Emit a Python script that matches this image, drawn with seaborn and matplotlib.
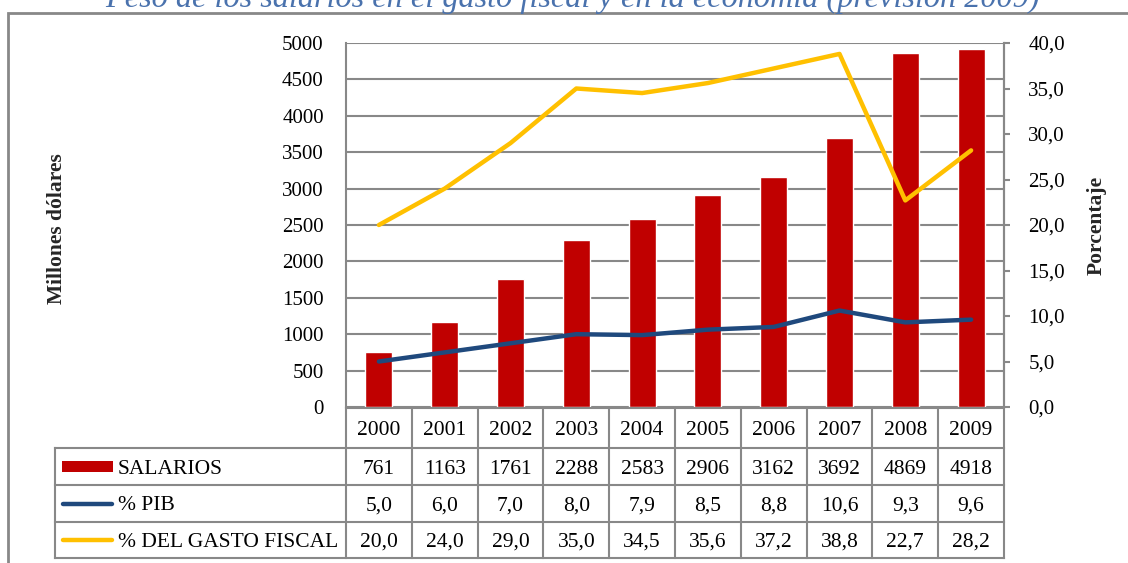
import numpy as np
import pandas as pd
import matplotlib
matplotlib.use("Agg")
import matplotlib.pyplot as plt
import seaborn as sns
from matplotlib.patches import Rectangle
from matplotlib.lines import Line2D
from matplotlib.ticker import FuncFormatter, MultipleLocator

# ---- data ----
years = ["2000", "2001", "2002", "2003", "2004", "2005", "2006", "2007", "2008", "2009"]
salarios = [761, 1163, 1761, 2288, 2583, 2906, 3162, 3692, 4869, 4918]
pct_pib = [5.0, 6.0, 7.0, 8.0, 7.9, 8.5, 8.8, 10.6, 9.3, 9.6]
pct_gasto = [20.0, 24.0, 29.0, 35.0, 34.5, 35.6, 37.2, 38.8, 22.7, 28.2]
series_labels = ["SALARIOS", "% PIB", "% DEL GASTO FISCAL"]
title = "Peso de los salarios en el gasto fiscal y en la economía (previsión 2009)"
left_label = "Millones dólares"
right_label = "Porcentaje"

RED = "#C00000"
BLUE = "#1F497D"
GOLD = "#FFC000"
GRID = "#888888"

sns.set_style("white")
plt.rcParams["font.family"] = ["Liberation Serif", "DejaVu Serif"]

W, H = 1128, 563
fig = plt.figure(figsize=(W / 100, H / 100), dpi=100)

# axes box in pixels
L, R, T, B = 346, 1004, 43, 407
ax = fig.add_axes([L / W, 1 - B / H, (R - L) / W, (B - T) / H])

def px2ax(px, py):
    return (px - L) / (R - L), (B - py) / (B - T)

df = pd.DataFrame({"year": years, "salarios": salarios,
                   "pib": pct_pib, "gasto": pct_gasto})
df["pos"] = np.arange(len(years))

sns.barplot(data=df, x="year", y="salarios", color=RED, saturation=1,
            width=0.41, ax=ax, zorder=3)
ax.set_xlim(-0.5, len(years) - 0.5)
ax.set_ylim(0, 5000)
ax.yaxis.set_major_locator(MultipleLocator(500))
ax.grid(axis="y", color=GRID, linewidth=1.5, zorder=0)
ax.set_axisbelow(True)
ax.set_xticks([])
ax.set_xlabel("")
ax.tick_params(axis="y", length=0, pad=16, labelsize=15, colors="black")
for s in ["top", "bottom"]:
    ax.spines[s].set_visible(False)
for s in ["left", "right"]:
    ax.spines[s].set_color(GRID)
    ax.spines[s].set_linewidth(1.5)
ax.set_ylabel(left_label, fontsize=15.5, fontweight="bold")
ax.yaxis.set_label_coords(px2ax(67, 0)[0], px2ax(0, 229)[1])

ax2 = ax.twinx()
sns.lineplot(data=df, x="pos", y="pib", color=BLUE, linewidth=3.2, ax=ax2,
             solid_capstyle="round", zorder=4)
sns.lineplot(data=df, x="pos", y="gasto", color=GOLD, linewidth=3.2, ax=ax2,
             solid_capstyle="round", zorder=4)
ax2.set_xlim(-0.5, len(years) - 0.5)
ax2.set_ylim(0, 40)
ax2.yaxis.set_major_locator(MultipleLocator(5))
ax2.yaxis.set_major_formatter(FuncFormatter(lambda v, p: f"{v:.1f}".replace(".", ",")))
ax2.tick_params(axis="y", length=4.5, width=1.5, color=GRID, pad=13,
                labelsize=15, labelcolor="black")
for s in ["top", "bottom", "left"]:
    ax2.spines[s].set_visible(False)
ax2.spines["right"].set_color(GRID)
ax2.spines["right"].set_linewidth(1.5)
ax2.set_xlabel("")
ax2.set_ylabel(right_label, fontsize=15.5, fontweight="bold")
ax2.yaxis.set_label_coords(px2ax(1087, 0)[0], px2ax(0, 225)[1])
ax2.grid(False)

# ---- data table (drawn below the axes) ----
tl = 55
row_edges = [408, 448, 485, 522, 558]
n = len(years)
col_w = (R - L) / n
col_edges = [L + k * col_w for k in range(n + 1)]
fmt_rows = [
    [str(v) for v in salarios],
    [f"{v:.1f}".replace(".", ",") for v in pct_pib],
    [f"{v:.1f}".replace(".", ",") for v in pct_gasto],
]

def hline(py, xa, xb, **kw):
    a0, b0 = px2ax(xa, py)
    a1, _ = px2ax(xb, py)
    ax2.add_line(Line2D([a0, a1], [b0, b0], transform=ax2.transAxes,
                        clip_on=False, **kw))

def vline(px, ya, yb, **kw):
    a0, b0 = px2ax(px, ya)
    _, b1 = px2ax(px, yb)
    ax2.add_line(Line2D([a0, a0], [b0, b1], transform=ax2.transAxes,
                        clip_on=False, **kw))

gkw = dict(color=GRID, linewidth=1.5, solid_capstyle="projecting")
hline(row_edges[0], L, R, **gkw)
for py in row_edges[1:]:
    hline(py, tl, R, **gkw)
vline(tl, row_edges[1], row_edges[-1], **gkw)
for px in col_edges:
    vline(px, row_edges[0], row_edges[-1], **gkw)

def put(px, py, s, ha="center"):
    a, b = px2ax(px, py)
    ax2.text(a, b, s, transform=ax2.transAxes, ha=ha, va="center_baseline",
             fontsize=15.5, color="black", clip_on=False)

for j, y in enumerate(years):
    cx = (col_edges[j] + col_edges[j + 1]) / 2
    put(cx, (row_edges[0] + row_edges[1]) / 2, y)
for i in range(3):
    cy = (row_edges[i + 1] + row_edges[i + 2]) / 2
    put(118, cy, series_labels[i], ha="left")
    for j in range(n):
        cx = (col_edges[j] + col_edges[j + 1]) / 2
        put(cx, cy, fmt_rows[i][j])

# legend keys inside the table
cy1 = (row_edges[1] + row_edges[2]) / 2
rx0, ry_top = px2ax(62, cy1 - 6)
rx1, ry_bot = px2ax(113, cy1 + 5)
ax2.add_patch(Rectangle((rx0, ry_bot), rx1 - rx0, ry_top - ry_bot,
                        transform=ax2.transAxes, facecolor=RED, edgecolor="none",
                        clip_on=False, zorder=10))
for i, col in [(1, BLUE), (2, GOLD)]:
    cy = (row_edges[i + 1] + row_edges[i + 2]) / 2
    hline(cy, 63, 112, color=col, linewidth=3.2, solid_capstyle="round", zorder=10)

# title (partially cut off at the top) and outer frame
fig.text(572 / W, 1 - 7 / H, title, ha="center", va="baseline", fontsize=23.2,
         style="italic", color="#4A72AD")
fig.add_artist(Rectangle((8 / W, -0.1), 1.2, 1.1 - 13 / H, transform=fig.transFigure,
                         facecolor="none", edgecolor=GRID, linewidth=2, zorder=0))

fig.savefig("out.png", dpi=100)
